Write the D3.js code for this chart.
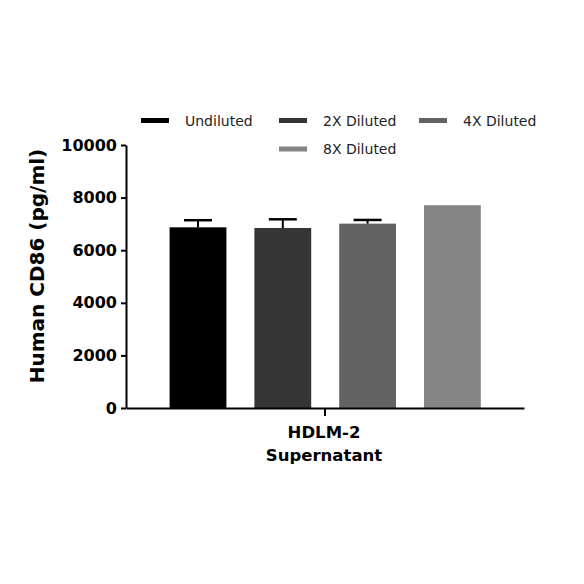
<!DOCTYPE html>
<html lang="en"><head>
<meta charset="utf-8">
<title>CD86 bar chart</title>
<script src="https://cdn.jsdelivr.net/npm/d3@7"></script>
<style>
  body { margin: 0; background: #fff; }
  text { font-family: "DejaVu Sans", sans-serif; }
</style>
</head>
<body>
<svg width="584" height="584"></svg>
<script>
// data
var groups = ["HDLM-2 Supernatant"];
var series = ["Undiluted", "2X Diluted", "4X Diluted", "8X Diluted"];
var means = [6870, 6845, 7010, 7710];
var errs = [270, 330, 140, 0];
var colors = ["#000000", "#353535", "#636363", "#848484"];
var yTicks = [0, 2000, 4000, 6000, 8000, 10000];

var svg = d3.select("svg");

var y = d3.scaleLinear().domain([0, 10000]).range([408, 145]);

var x = d3.scaleBand()
    .domain(series)
    .range([155.6, 494.8])
    .paddingInner(0.33)
    .paddingOuter(0.165);

var gx = d3.scaleBand().domain(groups).range([126, 524]);

// bars
svg.append("g").selectAll("rect")
  .data(series)
  .enter().append("rect")
    .attr("x", function(d) { return x(d); })
    .attr("y", function(d, i) { return y(means[i]); })
    .attr("width", x.bandwidth())
    .attr("height", function(d, i) { return y(0) - y(means[i]); })
    .attr("fill", function(d, i) { return colors[i]; });

// error bars (upper only)
var eb = svg.append("g").selectAll("g")
  .data(series.filter(function(d, i) { return errs[i] > 0; }))
  .enter().append("g");
eb.append("line")
    .attr("x1", function(d) { return x(d) + x.bandwidth() / 2; })
    .attr("x2", function(d) { return x(d) + x.bandwidth() / 2; })
    .attr("y1", function(d) { var i = series.indexOf(d); return y(means[i]); })
    .attr("y2", function(d) { var i = series.indexOf(d); return y(means[i] + errs[i]); })
    .attr("stroke", "#000").attr("stroke-width", 2);
eb.append("line")
    .attr("x1", function(d) { return x(d) + x.bandwidth() / 2 - 14; })
    .attr("x2", function(d) { return x(d) + x.bandwidth() / 2 + 14; })
    .attr("y1", function(d) { var i = series.indexOf(d); return y(means[i] + errs[i]); })
    .attr("y2", function(d) { var i = series.indexOf(d); return y(means[i] + errs[i]); })
    .attr("stroke", "#000").attr("stroke-width", 2.5);

// y axis
var yAxis = svg.append("g")
    .attr("transform", "translate(126,0)")
    .call(d3.axisLeft(y).tickValues(yTicks).tickFormat(d3.format("d"))
      .tickSize(5).tickPadding(4).tickSizeOuter(0));
yAxis.select(".domain").attr("stroke-width", 2);
yAxis.selectAll(".tick line").attr("stroke-width", 2);
yAxis.selectAll("text")
    .style("font-size", "16px").style("font-weight", "bold").attr("fill", "#000");

// x axis
var xAxis = svg.append("g")
    .attr("transform", "translate(0,408)")
    .call(d3.axisBottom(gx).tickSize(8).tickSizeOuter(0).tickFormat(""));
xAxis.select(".domain").attr("stroke-width", 2);
xAxis.selectAll(".tick line").attr("stroke-width", 2);

var gl = svg.append("text")
    .attr("text-anchor", "middle")
    .style("font-size", "16.5px").style("font-weight", "bold");
gl.append("tspan").attr("x", gx(groups[0]) + gx.bandwidth() / 2 - 1).attr("y", 438).text("HDLM-2");
gl.append("tspan").attr("x", gx(groups[0]) + gx.bandwidth() / 2 - 1).attr("y", 461).text("Supernatant");

// y title
svg.append("text")
    .attr("transform", "translate(44,266) rotate(-90)")
    .attr("text-anchor", "middle")
    .style("font-size", "20px").style("font-weight", "bold")
    .text("Human CD86 (pg/ml)");

// legend
var legPos = [[141, 120.5], [279, 120.5], [419, 120.5], [279, 149]];
var leg = svg.append("g").selectAll("g")
  .data(series)
  .enter().append("g")
    .attr("transform", function(d, i) { return "translate(" + legPos[i][0] + "," + legPos[i][1] + ")"; });
leg.append("rect")
    .attr("x", 0).attr("y", -2.5)
    .attr("width", 28).attr("height", 5)
    .attr("fill", function(d, i) { return colors[i]; });
leg.append("text")
    .attr("x", 44).attr("y", 5)
    .style("font-size", "14px")
    .attr("fill", "#222")
    .text(function(d) { return d; });
</script>
</body>
</html>
